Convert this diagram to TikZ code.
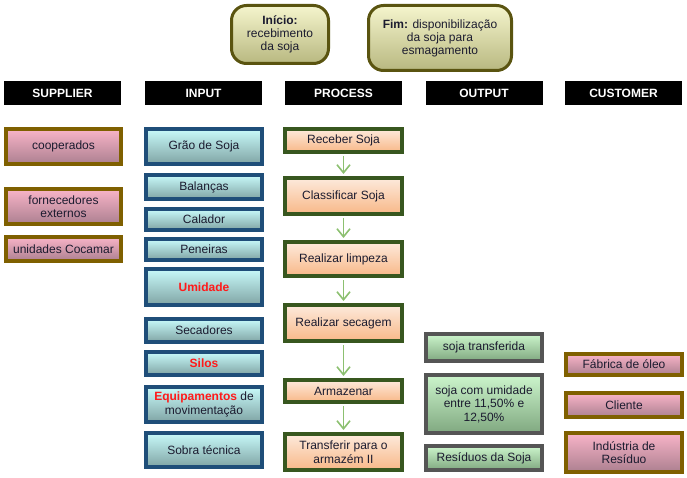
\documentclass[tikz,border=0pt]{standalone}
\usepackage{fontspec}
\setmainfont{Liberation Sans}
\usetikzlibrary{arrows.meta}
\definecolor{txt}{HTML}{1B1B2F}
\definecolor{supB}{HTML}{7F6000}
\definecolor{inB}{HTML}{1F4E79}
\definecolor{prB}{HTML}{38571F}
\definecolor{outB}{HTML}{555555}
\definecolor{topB}{HTML}{5A5410}
\definecolor{arr}{HTML}{8CC070}
\definecolor{redt}{HTML}{FF1A1A}
\tikzset{
  base/.style={rectangle, inner sep=0pt, line width=4pt, align=center, text=txt,
    font=\fontsize{12}{13.5}\selectfont},
  supbox/.style={base, draw=supB, top color=pink!60!white!95!red, bottom color=pink!60!black!70!white,
    top color={rgb,255:red,249;green,180;blue,200}, bottom color={rgb,255:red,172;green,128;blue,144}},
  inbox/.style={base, draw=inB, top color={rgb,255:red,200;green,250;blue,250}, bottom color={rgb,255:red,128;green,164;blue,164}},
  prbox/.style={base, draw=prB, top color={rgb,255:red,253;green,234;blue,220}, bottom color={rgb,255:red,248;green,184;blue,136}},
  outbox/.style={base, draw=outB, top color={rgb,255:red,204;green,245;blue,204}, bottom color={rgb,255:red,128;green,168;blue,128}},
  cubox/.style={supbox},
  hdr/.style={rectangle, fill=black, text=white, inner sep=0pt, minimum height=24pt, minimum width=117pt,
    font=\fontsize{12}{13.5}\selectfont\bfseries},
  termbox/.style={rectangle, rounded corners=15pt, line width=3pt, draw=topB, inner sep=0pt, align=center,
    text=txt, font=\fontsize{12}{13}\selectfont,
    top color={rgb,255:red,245;green,245;blue,205}, bottom color={rgb,255:red,184;green,184;blue,128}},
  flow/.style={draw=arr, line width=1.6pt, -{Straight Barb[length=8pt,width=13pt,line width=1.6pt]},
    shorten <=2pt, shorten >=2pt}
}
\begin{document}
\begin{tikzpicture}[x=1pt,y=-1pt]
\useasboundingbox (0,0) rectangle (687,478);
% terminal boxes
\node[termbox, minimum width=97pt, minimum height=58pt] (ini) at (280,34.5) {\textbf{Início:}\\recebimento\\da soja};
\node[termbox, minimum width=143pt, minimum height=65pt] (fim) at (440,38) {\textbf{Fim:} disponibilização\\da soja para\\esmagamento};
% headers
\node[hdr] (hs) at (62.5,93) {SUPPLIER};
\node[hdr] (hi) at (203.5,93) {INPUT};
\node[hdr] (hp) at (343.5,93) {PROCESS};
\node[hdr] (ho) at (484,93) {OUTPUT};
\node[hdr] (hc) at (623.5,93) {CUSTOMER};
% supplier
\node[supbox, minimum width=115pt, minimum height=35pt] (s1) at (63.5,146.5) {cooperados};
\node[supbox, minimum width=115pt, minimum height=35pt] (s2) at (63.5,206.5) {fornecedores\\externos};
\node[supbox, minimum width=115pt, minimum height=24pt] (s3) at (63.5,249) {unidades Cocamar};
% input
\node[inbox, minimum width=116pt, minimum height=35pt] (i1) at (204,146.5) {Grão de Soja};
\node[inbox, minimum width=116pt, minimum height=24pt] (i2) at (204,187) {Balanças};
\node[inbox, minimum width=116pt, minimum height=21pt] (i3) at (204,219.5) {Calador};
\node[inbox, minimum width=116pt, minimum height=21pt] (i4) at (204,249.5) {Peneiras};
\node[inbox, minimum width=116pt, minimum height=36pt] (i5) at (204,287) {\textcolor{redt}{\textbf{Umidade}}};
\node[inbox, minimum width=116pt, minimum height=23pt] (i6) at (204,330.5) {Secadores};
\node[inbox, minimum width=116pt, minimum height=23pt] (i7) at (204,363.5) {\textcolor{redt}{\textbf{Silos}}};
\node[inbox, minimum width=116pt, minimum height=35pt] (i8) at (204,404.5) {\textcolor{redt}{\textbf{Equipamentos}} de\\movimentação};
\node[inbox, minimum width=116pt, minimum height=34pt] (i9) at (204,450) {Sobra técnica};
% process
\node[prbox, minimum width=117pt, minimum height=23pt] (p1) at (343.5,140.5) {Receber Soja};
\node[prbox, minimum width=117pt, minimum height=36pt] (p2) at (343.5,196) {Classificar Soja};
\node[prbox, minimum width=117pt, minimum height=34pt] (p3) at (343.5,259) {Realizar limpeza};
\node[prbox, minimum width=117pt, minimum height=36pt] (p4) at (343.5,323) {Realizar secagem};
\node[prbox, minimum width=117pt, minimum height=22pt] (p5) at (343.5,391) {Armazenar};
\node[prbox, minimum width=117pt, minimum height=36pt] (p6) at (343.5,452) {Transferir para o\\armazém II};
% output
\node[outbox, minimum width=116pt, minimum height=27pt] (o1) at (484,347.5) {soja transferida};
\node[outbox, minimum width=116pt, minimum height=58pt] (o2) at (484,404) {soja com umidade\\entre 11,50\% e\\12,50\%};
\node[outbox, minimum width=116pt, minimum height=24pt] (o3) at (484,458) {Resíduos da Soja};
% customer
\node[cubox, minimum width=116pt, minimum height=21pt] (c1) at (624,364.5) {Fábrica de óleo};
\node[cubox, minimum width=116pt, minimum height=24pt] (c2) at (624,405) {Cliente};
\node[cubox, minimum width=116pt, minimum height=39pt] (c3) at (624,452.5) {Indústria de\\Resíduo};
% arrows
\draw[flow] (p1) -- (p2);
\draw[flow] (p2) -- (p3);
\draw[flow] (p3) -- (p4);
\draw[flow] (p4) -- (p5);
\draw[flow] (p5) -- (p6);
\end{tikzpicture}
\end{document}
